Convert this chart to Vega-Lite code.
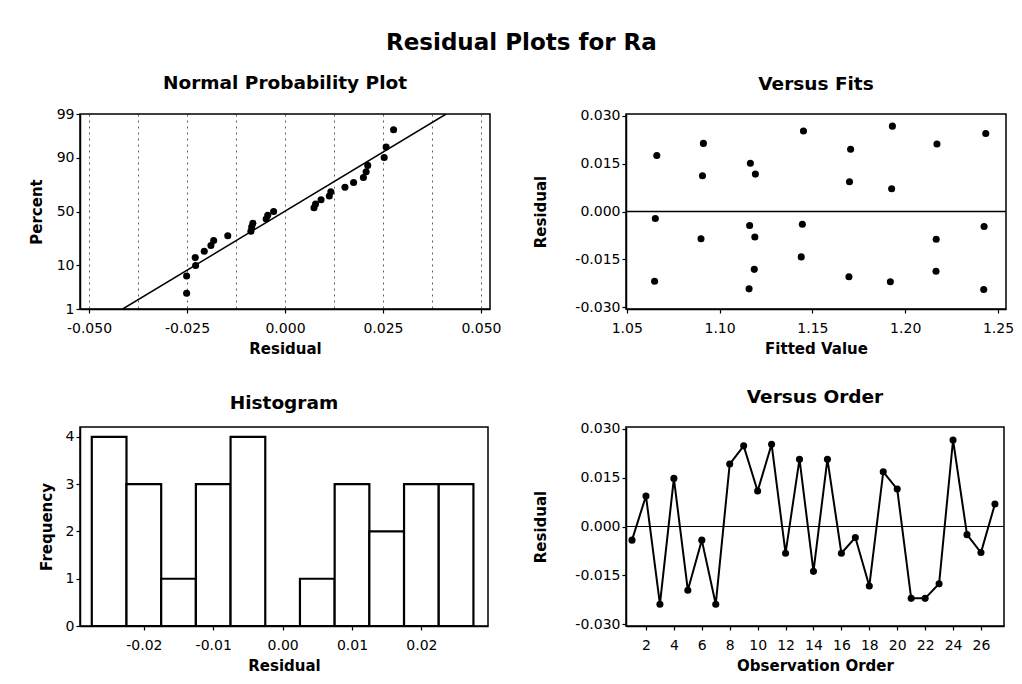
{
  "$schema": "https://vega.github.io/schema/vega-lite/v6.json",
  "background": "white",
  "padding": {"left": 28, "top": 31, "right": 5, "bottom": 5},
  "title": {"text": "Residual Plots for Ra", "fontSize": 23, "font": "DejaVu Sans", "fontWeight": "bold", "color": "black", "anchor": "middle", "frame": "bounds", "offset": 18},
  "config": {
    "view": {"stroke": "black", "strokeWidth": 1.5},
    "axis": {"labelFont": "DejaVu Sans", "labelFontSize": 14, "labelColor": "black", "titleFont": "DejaVu Sans", "titleFontSize": 15, "titleFontWeight": "bold", "titleColor": "black", "tickColor": "black", "tickSize": 4, "tickWidth": 1.2, "domainColor": "black", "domainWidth": 1.5, "grid": false, "labelPadding": 2, "labelFlush": false, "labelOverlap": false},
    "axisX": {"titlePadding": 6, "labelPadding": 8},
    "title": {"font": "DejaVu Sans", "fontSize": 18.5, "fontWeight": "bold", "color": "black", "offset": 15, "frame": "group"}
  },
  "datasets": {
    "npp": [
      {"residual": -0.0251, "z": -1.95}, {"residual": -0.0251, "z": -1.54}, {"residual": -0.0228, "z": -1.29},
      {"residual": -0.0229, "z": -1.10}, {"residual": -0.0206, "z": -0.95}, {"residual": -0.0189, "z": -0.81},
      {"residual": -0.0182, "z": -0.69}, {"residual": -0.0146, "z": -0.58}, {"residual": -0.0087, "z": -0.47},
      {"residual": -0.0085, "z": -0.37}, {"residual": -0.0082, "z": -0.28}, {"residual": -0.0048, "z": -0.18},
      {"residual": -0.0044, "z": -0.09}, {"residual": -0.0029, "z": 0.0}, {"residual": 0.0074, "z": 0.09},
      {"residual": 0.0078, "z": 0.18}, {"residual": 0.0092, "z": 0.28}, {"residual": 0.0113, "z": 0.37},
      {"residual": 0.0117, "z": 0.47}, {"residual": 0.0153, "z": 0.58}, {"residual": 0.0175, "z": 0.69},
      {"residual": 0.0200, "z": 0.81}, {"residual": 0.0207, "z": 0.95}, {"residual": 0.0211, "z": 1.10},
      {"residual": 0.0253, "z": 1.29}, {"residual": 0.0258, "z": 1.54}, {"residual": 0.0277, "z": 1.95}
    ],
    "npline": [
      {"residual": -0.0414, "z": -2.3263}, {"residual": 0.0411, "z": 2.3263}
    ],
    "fits": [
      {"fit": 1.0662, "residual": 0.0175}, {"fit": 1.0654, "residual": -0.0022}, {"fit": 1.0650, "residual": -0.0218},
      {"fit": 1.0913, "residual": 0.0213}, {"fit": 1.0908, "residual": 0.0112}, {"fit": 1.0900, "residual": -0.0085},
      {"fit": 1.1166, "residual": 0.0151}, {"fit": 1.1193, "residual": 0.0117}, {"fit": 1.1162, "residual": -0.0044},
      {"fit": 1.1190, "residual": -0.0080}, {"fit": 1.1187, "residual": -0.0181}, {"fit": 1.1159, "residual": -0.0242},
      {"fit": 1.1452, "residual": 0.0252}, {"fit": 1.1446, "residual": -0.0040}, {"fit": 1.1440, "residual": -0.0142},
      {"fit": 1.1706, "residual": 0.0195}, {"fit": 1.1700, "residual": 0.0093}, {"fit": 1.1697, "residual": -0.0204},
      {"fit": 1.1931, "residual": 0.0267}, {"fit": 1.1927, "residual": 0.0071}, {"fit": 1.1920, "residual": -0.0220},
      {"fit": 1.2171, "residual": 0.0211}, {"fit": 1.2167, "residual": -0.0087}, {"fit": 1.2166, "residual": -0.0187},
      {"fit": 1.2434, "residual": 0.0244}, {"fit": 1.2425, "residual": -0.0047}, {"fit": 1.2423, "residual": -0.0244}
    ],
    "hist": [
      {"start": -0.0275, "end": -0.0225, "count": 4}, {"start": -0.0225, "end": -0.0175, "count": 3},
      {"start": -0.0175, "end": -0.0125, "count": 1}, {"start": -0.0125, "end": -0.0075, "count": 3},
      {"start": -0.0075, "end": -0.0025, "count": 4}, {"start": -0.0025, "end": 0.0025, "count": 0},
      {"start": 0.0025, "end": 0.0075, "count": 1}, {"start": 0.0075, "end": 0.0125, "count": 3},
      {"start": 0.0125, "end": 0.0175, "count": 2}, {"start": 0.0175, "end": 0.0225, "count": 3},
      {"start": 0.0225, "end": 0.0275, "count": 3}
    ],
    "order": [
      {"obs": 1, "residual": -0.0042}, {"obs": 2, "residual": 0.0094}, {"obs": 3, "residual": -0.0239},
      {"obs": 4, "residual": 0.0148}, {"obs": 5, "residual": -0.0196}, {"obs": 6, "residual": -0.0042},
      {"obs": 7, "residual": -0.0239}, {"obs": 8, "residual": 0.0192}, {"obs": 9, "residual": 0.0248},
      {"obs": 10, "residual": 0.0109}, {"obs": 11, "residual": 0.0253}, {"obs": 12, "residual": -0.0082},
      {"obs": 13, "residual": 0.0207}, {"obs": 14, "residual": -0.0138}, {"obs": 15, "residual": 0.0207},
      {"obs": 16, "residual": -0.0082}, {"obs": 17, "residual": -0.0034}, {"obs": 18, "residual": -0.0183},
      {"obs": 19, "residual": 0.0168}, {"obs": 20, "residual": 0.0115}, {"obs": 21, "residual": -0.0221},
      {"obs": 22, "residual": -0.0221}, {"obs": 23, "residual": -0.0176}, {"obs": 24, "residual": 0.0266},
      {"obs": 25, "residual": -0.0025}, {"obs": 26, "residual": -0.0080}, {"obs": 27, "residual": 0.0069}
    ],
    "zero": [{"residual": 0}]
  },
  "columns": 2,
  "align": "each",
  "bounds": "flush",
  "spacing": {"row": 118, "column": 136},
  "concat": [
    {
      "title": "Normal Probability Plot",
      "width": 410,
      "height": 195,
      "layer": [
        {
          "data": {"name": "npline"},
          "mark": {"type": "line", "color": "black", "strokeWidth": 1.5, "clip": true},
          "encoding": {
            "x": {"field": "residual", "type": "quantitative", "scale": {"domain": [-0.0523, 0.0523], "nice": false, "zero": false},
              "axis": {"title": "Residual", "values": [-0.05, -0.0375, -0.025, -0.0125, 0, 0.0125, 0.025, 0.0375, 0.05],
                "grid": true, "gridDash": [2, 4], "gridColor": "black", "gridWidth": 0.8, "gridOpacity": 0.8,
                "labelExpr": "round(datum.value*400) % 10 == 0 ? replace(format(datum.value, '.3f'), '\u2212', '-') : ''",
                "tickOpacity": {"condition": {"test": "round(datum.value*400) % 10 != 0", "value": 0}, "value": 1}}},
            "y": {"field": "z", "type": "quantitative", "scale": {"domain": [-2.3263, 2.3263], "nice": false, "zero": false},
              "axis": {"title": "Percent", "titlePadding": 12, "values": [-2.3263, -1.2816, 0, 1.2816, 2.3263],
                "labelExpr": "datum.value < -2 ? '1' : datum.value < -1 ? '10' : datum.value < 1 ? '50' : datum.value < 2 ? '90' : '99'"}}
          }
        },
        {
          "data": {"name": "npp"},
          "mark": {"type": "circle", "color": "black", "size": 50, "opacity": 1},
          "encoding": {
            "x": {"field": "residual", "type": "quantitative"},
            "y": {"field": "z", "type": "quantitative"}
          }
        }
      ]
    },
    {
      "title": "Versus Fits",
      "width": 380,
      "height": 195,
      "layer": [
        {
          "data": {"name": "zero"},
          "mark": {"type": "rule", "color": "black", "strokeWidth": 1.5},
          "encoding": {"y": {"field": "residual", "type": "quantitative"}}
        },
        {
          "data": {"name": "fits"},
          "mark": {"type": "circle", "color": "black", "size": 50, "opacity": 1},
          "encoding": {
            "x": {"field": "fit", "type": "quantitative", "scale": {"domain": [1.0496, 1.2543], "nice": false, "zero": false},
              "axis": {"title": "Fitted Value", "values": [1.05, 1.1, 1.15, 1.2, 1.25], "format": ".2f"}},
            "y": {"field": "residual", "type": "quantitative", "scale": {"domain": [-0.0305, 0.0305], "nice": false, "zero": false},
              "axis": {"title": "Residual", "titlePadding": 26, "values": [-0.03, -0.015, 0, 0.015, 0.03],
                "labelExpr": "replace(format(datum.value, '.3f'), '\u2212', '-')"}}
          }
        }
      ]
    },
    {
      "title": "Histogram",
      "width": 408,
      "height": 199,
      "data": {"name": "hist"},
      "mark": {"type": "rect", "fill": "white", "stroke": "black", "strokeWidth": 2.2},
      "encoding": {
        "x": {"field": "start", "type": "quantitative", "scale": {"domain": [-0.0292, 0.0296], "nice": false, "zero": false},
          "axis": {"title": "Residual", "values": [-0.02, -0.01, 0, 0.01, 0.02],
            "labelExpr": "replace(format(datum.value, '.2f'), '\u2212', '-')"}},
        "x2": {"field": "end"},
        "y": {"field": "count", "type": "quantitative", "scale": {"domain": [0, 4.21], "nice": false},
          "axis": {"title": "Frequency", "titlePadding": 11, "values": [0, 1, 2, 3, 4], "format": "d"}},
        "y2": {"datum": 0}
      }
    },
    {
      "title": "Versus Order",
      "width": 378,
      "height": 199,
      "layer": [
        {
          "data": {"name": "zero"},
          "mark": {"type": "rule", "color": "black", "strokeWidth": 1.2},
          "encoding": {"y": {"field": "residual", "type": "quantitative"}}
        },
        {
          "data": {"name": "order"},
          "mark": {"type": "line", "color": "black", "strokeWidth": 2, "point": {"filled": true, "color": "black", "size": 50, "opacity": 1}},
          "encoding": {
            "x": {"field": "obs", "type": "quantitative", "scale": {"domain": [0.57, 27.65], "nice": false, "zero": false},
              "axis": {"title": "Observation Order", "values": [2, 4, 6, 8, 10, 12, 14, 16, 18, 20, 22, 24, 26], "format": "d"}},
            "y": {"field": "residual", "type": "quantitative", "scale": {"domain": [-0.0306, 0.0306], "nice": false, "zero": false},
              "axis": {"title": "Residual", "titlePadding": 26, "values": [-0.03, -0.015, 0, 0.015, 0.03],
                "labelExpr": "replace(format(datum.value, '.3f'), '\u2212', '-')"}}
          }
        }
      ]
    }
  ]
}
